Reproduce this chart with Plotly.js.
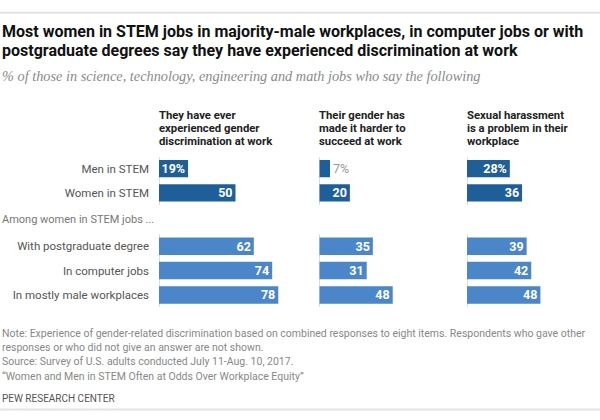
<!DOCTYPE html>
<html>
<head>
<meta charset="utf-8">
<script src="https://cdn.plot.ly/plotly-3.0.1.min.js"></script>
<style>html,body{margin:0;padding:0;background:#fff;}#chart{width:600px;height:420px;}</style>
</head>
<body>
<div id="chart"></div>
<script>
// ---- data ----
const topGroups = ["Men in STEM", "Women in STEM"];
const subGroups = ["With postgraduate degree", "In computer jobs", "In mostly male workplaces"];
const questions = [
  ["They have ever", "experienced gender", "discrimination at work"],
  ["Their gender has", "made it harder to", "succeed at work"],
  ["Sexual harassment", "is a problem in their", "workplace"]
];
const discriminationTop = [19, 50];
const discriminationSub = [62, 74, 78];
const harderTop = [7, 20];
const harderSub = [35, 31, 48];
const harassmentTop = [28, 36];
const harassmentSub = [39, 42, 48];
const subHeading = "Among women in STEM jobs ...";
const titleLines = [
  "Most women in STEM jobs in majority-male workplaces, in computer jobs or with",
  "postgraduate degrees say they have experienced discrimination at work"
];
const subtitle = "% of those in science, technology, engineering and math jobs who say the following";
const noteLines = [
  "Note: Experience of gender-related discrimination based on combined responses to eight items. Respondents who gave other",
  "responses or who did not give an answer are not shown.",
  "Source: Survey of U.S. adults conducted July 11-Aug. 10, 2017.",
  "\u201cWomen and Men in STEM Often at Odds Over Workplace Equity\u201d"
];
const sourceName = "PEW RESEARCH CENTER";

// ---- styling ----
const W = 600, H = 420;
const SANS = "Roboto, Lato, sans-serif";
const darkBlue = "#1f5f99";
const lightBlue = "#4a86c8";
const py = p => 1 - p / H;
const px = p => p / W;

const topCols = [discriminationTop, harderTop, harassmentTop];
const subCols = [discriminationSub, harderSub, harassmentSub];
const xAxes = ["x", "x2", "x3"];
const colStarts = [159, 319.3, 467];
const colWidth = 130;
const xMax = 85;

function labelText(vals, withPct) {
  return vals.map((v, i) => (withPct && i === 0) ? v + "%" : String(v));
}

const traces = [];
topCols.forEach((vals, c) => {
  const small = vals.map(v => v < 10);
  traces.push({
    type: "bar", orientation: "h",
    x: vals, y: topGroups,
    xaxis: xAxes[c], yaxis: "y",
    marker: {color: darkBlue},
    text: labelText(vals, true),
    textposition: small.map(s => s ? "outside" : "inside"),
    insidetextanchor: "end",
    textangle: 0,
    constraintext: "none",
    textfont: {family: SANS, size: 12.5, color: small.map(s => s ? "#999" : "#fff"), weight: small.map(s => s ? 400 : 700)},
    cliponaxis: false,
    hoverinfo: "none", showlegend: false
  });
  traces.push({
    type: "bar", orientation: "h",
    x: subCols[c], y: subGroups,
    xaxis: xAxes[c], yaxis: "y2",
    marker: {color: lightBlue},
    text: labelText(subCols[c], false),
    textposition: "inside",
    insidetextanchor: "end",
    textangle: 0,
    constraintext: "none",
    textfont: {family: SANS, size: 12.5, color: "#fff", weight: 700},
    hoverinfo: "none", showlegend: false
  });
});

const layout = {
  width: W, height: H,
  margin: {l: 0, r: 0, t: 0, b: 0},
  paper_bgcolor: "#fff", plot_bgcolor: "#fff",
  bargap: 0.28,
  showlegend: false,
  yaxis: {
    domain: [py(204.9), py(156.6)], anchor: "x",
    autorange: "reversed", type: "category",
    showgrid: false, zeroline: false, showline: false, ticks: "",
    ticklabelstandoff: 9,
    tickfont: {family: SANS, size: 11.5, color: "#555"}
  },
  yaxis2: {
    domain: [py(307.1), py(234.1)], anchor: "x",
    autorange: "reversed", type: "category",
    showgrid: false, zeroline: false, showline: false, ticks: "",
    ticklabelstandoff: 9,
    tickfont: {family: SANS, size: 11.5, color: "#555"}
  },
  annotations: [],
  shapes: [
    {type: "line", xref: "paper", yref: "paper", x0: 0, x1: 1, y0: py(12.7), y1: py(12.7), line: {color: "#e3e3e3", width: 2}},
    {type: "line", xref: "paper", yref: "paper", x0: 0, x1: 1, y0: py(409.5), y1: py(409.5), line: {color: "#e3e3e3", width: 2}}
  ]
};

xAxes.forEach((ax, c) => {
  const key = "xaxis" + (c === 0 ? "" : c + 1);
  layout[key] = {
    domain: [px(colStarts[c]), px(colStarts[c] + colWidth)],
    range: [0, xMax], anchor: "y2",
    showgrid: false, showticklabels: false, ticks: "", showline: false,
    zeroline: true, zerolinecolor: "#dcdcdc", zerolinewidth: 1,
    fixedrange: true
  };
});

function addLine(text, x, yc, font, extra) {
  layout.annotations.push(Object.assign({
    text: text, xref: "paper", yref: "paper",
    x: px(x), y: py(yc), xanchor: "left", yanchor: "middle",
    showarrow: false, font: font, borderpad: 0
  }, extra || {}));
}

const titleFont = {family: SANS, size: 16, color: "#111", weight: 700};
titleLines.forEach((t, i) => addLine(t, 1, 31.7 + i * 18.5, titleFont));
addLine(subtitle, 1, 76, {family: "Liberation Serif, serif", size: 14.3, color: "#8a8a8a", style: "italic"});

const headFont = {family: SANS, size: 11.3, color: "#222", weight: 700};
questions.forEach((lines, c) => {
  lines.forEach((t, i) => addLine(t, colStarts[c] - 1, 115 + i * 13.4, headFont));
});

addLine(subHeading, 1, 219.3, {family: SANS, size: 11, color: "#777"});

const noteFont = {family: SANS, size: 10.5, color: "#888"};
noteLines.forEach((t, i) => addLine(t, 1, 333.5 + i * 14.2, noteFont));
addLine(sourceName, 1, 398.3, {family: SANS, size: 10, color: "#555"});

Plotly.newPlot("chart", traces, layout, {staticPlot: true});
</script>
</body>
</html>
